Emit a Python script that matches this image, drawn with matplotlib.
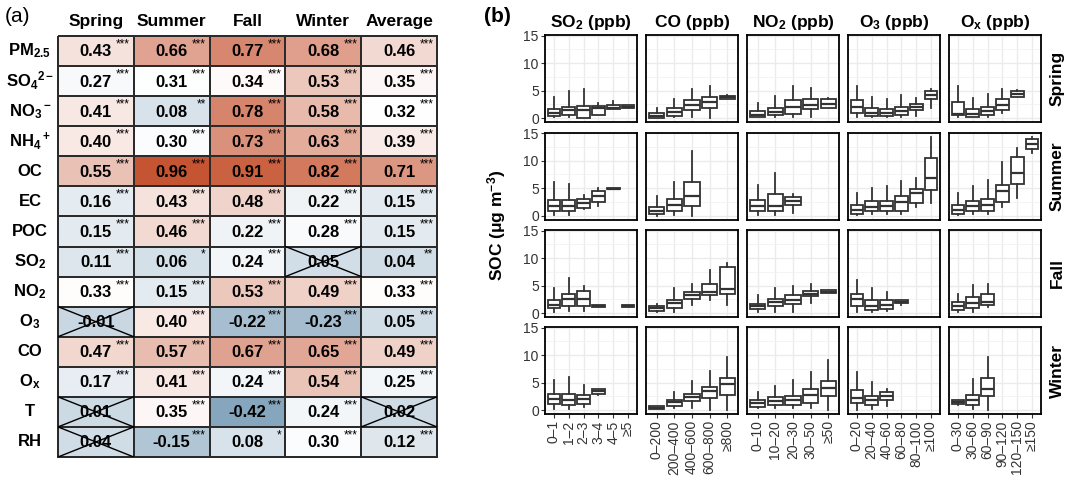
import matplotlib.pyplot as plt
import numpy as np
from matplotlib.colors import LinearSegmentedColormap, TwoSlopeNorm

plt.rcParams['font.family'] = ['Liberation Sans', 'DejaVu Sans']
plt.rcParams['mathtext.fontset'] = 'custom'
plt.rcParams['mathtext.rm'] = 'Liberation Sans:bold'
plt.rcParams['mathtext.it'] = 'Liberation Sans:bold'
plt.rcParams['mathtext.bf'] = 'Liberation Sans:bold'

# ---------------- panel (a) data ----------------
seasons = ["Spring", "Summer", "Fall", "Winter", "Average"]
factors = ["PM$_{2.5}$", "SO$_4$$^{2-}$", "NO$_3$$^-$", "NH$_4$$^+$", "OC", "EC", "POC",
           "SO$_2$", "NO$_2$", "O$_3$", "CO", "O$_x$", "T", "RH"]

r_spring = [0.43, 0.27, 0.41, 0.40, 0.55, 0.16, 0.15, 0.11, 0.33, -0.01, 0.47, 0.17, 0.01, 0.04]
r_summer = [0.66, 0.31, 0.08, 0.30, 0.96, 0.43, 0.46, 0.06, 0.15, 0.40, 0.57, 0.41, 0.35, -0.15]
r_fall = [0.77, 0.34, 0.78, 0.73, 0.91, 0.48, 0.22, 0.24, 0.53, -0.22, 0.67, 0.24, -0.42, 0.08]
r_winter = [0.68, 0.53, 0.58, 0.63, 0.82, 0.22, 0.28, 0.05, 0.49, -0.23, 0.65, 0.54, 0.24, 0.30]
r_average = [0.46, 0.35, 0.32, 0.39, 0.71, 0.15, 0.15, 0.04, 0.33, 0.05, 0.49, 0.25, 0.02, 0.12]

sig_spring = ["***", "***", "***", "***", "***", "***", "***", "***", "***", "", "***", "***", "", ""]
sig_summer = ["***", "***", "**", "***", "***", "***", "***", "*", "***", "***", "***", "***", "***", "***"]
sig_fall = ["***", "***", "***", "***", "***", "***", "***", "***", "***", "***", "***", "***", "***", "*"]
sig_winter = ["***", "***", "***", "***", "***", "***", "***", "", "***", "***", "***", "***", "***", "***"]
sig_average = ["***", "***", "***", "***", "***", "***", "***", "**", "***", "***", "***", "***", "", "***"]

# ---------------- panel (b) data ----------------
# each box: (whisker low, q1, median, q3, whisker high); None = no data
pollutants = ["SO$_2$ (ppb)", "CO (ppb)", "NO$_2$ (ppb)", "O$_3$ (ppb)", "O$_x$ (ppb)"]
box_seasons = ["Spring", "Summer", "Fall", "Winter"]

so2_bins = ["0–1", "1–2", "2–3", "3–4", "4–5", "≥5"]
co_bins = ["0–200", "200–400", "400–600", "600–800", "≥800"]
no2_bins = ["0–10", "10–20", "20–30", "30–50", "≥50"]
o3_bins = ["0–20", "20–40", "40–60", "60–80", "80–100", "≥100"]
ox_bins = ["0–30", "30–60", "60–90", "90–120", "120–150", "≥150"]

spring_so2 = [(0.1, 0.4, 0.9, 1.6, 3.8), (0.2, 0.6, 1.5, 2.1, 5.0), (0.0, 0.0, 1.4, 2.2, 5.2),
              (0.5, 0.5, 1.9, 2.2, 2.8), (1.6, 1.6, 1.9, 2.4, 3.1), (1.8, 1.8, 2.0, 2.3, 2.4)]
spring_co = [(0.0, 0.0, 0.4, 0.9, 1.9), (0.2, 0.3, 1.1, 1.8, 3.5), (0.2, 1.4, 2.3, 3.2, 5.3),
             (0.0, 1.8, 2.9, 3.8, 5.9), (3.4, 3.5, 3.8, 4.1, 4.2)]
spring_no2 = [(0.1, 0.1, 0.6, 1.3, 2.7), (0.2, 0.5, 1.1, 1.9, 4.1), (0.2, 0.8, 2.1, 3.3, 5.8),
              (0.2, 1.6, 2.4, 3.5, 5.5), (1.8, 1.8, 2.6, 3.4, 3.7)]
spring_o3 = [(0.2, 0.9, 2.0, 3.2, 5.9), (0.2, 0.4, 1.0, 1.8, 3.8), (0.2, 0.3, 1.0, 1.7, 3.5),
             (0.2, 0.5, 1.2, 2.0, 4.2), (0.4, 1.4, 2.0, 2.5, 3.6), (1.8, 3.4, 4.2, 5.0, 5.3)]
spring_ox = [(0.2, 0.5, 0.8, 3.0, 5.8), (0.2, 0.2, 0.8, 1.7, 3.7), (0.2, 0.5, 1.2, 2.0, 4.3),
             (0.9, 1.5, 2.3, 3.4, 5.2), (3.8, 3.8, 4.4, 5.0, 5.1), None]

summer_so2 = [(0.1, 0.75, 1.8, 2.9, 6.1), (0.1, 0.75, 1.7, 2.9, 5.75), (1.2, 1.4, 2.2, 3.1, 3.75),
              (1.8, 2.4, 3.6, 4.4, 5.0), (4.75, 4.75, 4.9, 5.1, 5.1), None]
summer_co = [(0.0, 0.3, 0.75, 1.6, 3.6), (0.1, 0.9, 2.0, 3.1, 6.1), (0.0, 1.8, 3.5, 6.1, 11.8),
             None, None]
summer_no2 = [(0.1, 0.75, 1.7, 2.75, 5.6), (0.1, 0.75, 1.8, 3.9, 7.8), (0.4, 2.0, 2.7, 3.4, 3.9),
              None, None]
summer_o3 = [(0.1, 0.3, 1.1, 2.0, 4.1), (0.2, 0.75, 1.6, 2.6, 5.1), (0.2, 0.9, 1.7, 2.6, 5.3),
             (0.2, 0.9, 2.4, 3.6, 6.25), (1.6, 2.2, 4.1, 4.8, 6.8), (2.3, 4.7, 6.9, 10.4, 14.3)]
summer_ox = [(0.1, 0.3, 1.1, 2.0, 4.1), (0.2, 0.75, 1.7, 2.6, 5.3), (0.2, 0.9, 2.0, 3.1, 6.5),
             (1.6, 2.4, 4.4, 5.6, 9.7), (3.25, 5.75, 7.8, 10.6, 12.3), (11.4, 12.2, 13.1, 14.0, 14.3)]

fall_so2 = [(0.2, 0.9, 1.5, 2.3, 4.6), (0.4, 1.35, 2.6, 3.55, 6.3), (0.3, 1.2, 2.6, 4.0, 4.9),
            (1.1, 1.1, 1.3, 1.5, 1.5), None, (1.1, 1.1, 1.3, 1.5, 1.5)]
fall_co = [(0.2, 0.4, 0.9, 1.2, 1.65), (0.2, 1.0, 1.8, 2.45, 4.6), (1.4, 2.6, 3.3, 3.85, 5.2),
           (2.3, 3.2, 3.85, 5.3, 7.8), (1.5, 3.5, 4.4, 8.4, 9.2)]
fall_no2 = [(0.2, 0.8, 1.2, 1.7, 3.2), (0.2, 1.2, 2.0, 2.6, 4.5), (0.2, 1.7, 2.45, 3.2, 5.0),
            (1.8, 3.1, 3.55, 4.0, 5.2), (3.7, 3.7, 3.9, 4.2, 4.2)]
fall_o3 = [(0.2, 1.35, 2.5, 3.4, 6.1), (0.2, 0.6, 1.35, 2.3, 4.5), (0.3, 0.7, 1.5, 2.3, 3.8),
           (1.5, 1.8, 2.0, 2.3, 2.3), None, None]
fall_ox = [(0.2, 0.6, 1.35, 2.1, 3.4), (0.2, 0.9, 1.8, 2.9, 5.1), (1.1, 1.5, 2.1, 3.4, 5.3),
           None, None, None]

winter_so2 = [(0.1, 1.1, 2.1, 3.0, 5.4), (0.1, 0.95, 1.9, 3.0, 6.1), (0.5, 1.1, 2.1, 2.8, 4.6),
              (2.7, 3.0, 3.4, 3.75, 3.9), None, None]
winter_co = [(0.1, 0.1, 0.45, 0.75, 0.8), (0.3, 0.75, 1.4, 1.9, 3.3), (0.45, 1.7, 2.4, 3.0, 5.3),
             (0.0, 2.2, 3.4, 4.25, 7.1), (0.0, 2.8, 4.7, 5.75, 9.7)]
winter_no2 = [(0.3, 0.6, 1.25, 1.9, 3.3), (0.3, 0.95, 1.6, 2.4, 4.4), (0.3, 0.95, 1.9, 2.6, 5.4),
              (0.3, 1.25, 2.8, 3.75, 6.9), (0.0, 2.6, 4.1, 5.3, 9.2)]
winter_o3 = [(0.0, 1.25, 2.2, 3.6, 6.9), (0.1, 0.95, 1.75, 2.5, 5.1), (0.75, 1.9, 2.5, 3.25, 3.9),
             None, None, None]
winter_ox = [(0.95, 1.1, 1.5, 1.9, 1.9), (0.1, 0.95, 1.9, 2.8, 5.6), (0.0, 2.6, 3.9, 5.8, 9.7),
             None, None, None]

bins = [so2_bins, co_bins, no2_bins, o3_bins, ox_bins]
panels = [
    [spring_so2, spring_co, spring_no2, spring_o3, spring_ox],
    [summer_so2, summer_co, summer_no2, summer_o3, summer_ox],
    [fall_so2, fall_co, fall_no2, fall_o3, fall_ox],
    [winter_so2, winter_co, winter_no2, winter_o3, winter_ox],
]

W, H = 1070, 480
fig = plt.figure(figsize=(W / 100, H / 100), dpi=100)


def px_axes(x0, y0, x1, y1):
    # axes from pixel box (top-left origin)
    return fig.add_axes([x0 / W, 1 - y1 / H, (x1 - x0) / W, (y1 - y0) / H])


# ---------------- panel (a) ----------------
r_table = np.array([r_spring, r_summer, r_fall, r_winter, r_average]).T
sig_table = np.array([sig_spring, sig_summer, sig_fall, sig_winter, sig_average]).T

cmap = LinearSegmentedColormap.from_list("rb", ["#7c9fb8", "#ffffff", "#c24a26"])
norm = TwoSlopeNorm(vmin=-0.48, vcenter=0.32, vmax=1.0)

ax_a = px_axes(58, 36, 437, 457)
mesh = ax_a.pcolormesh(np.arange(len(seasons) + 1), np.arange(len(factors) + 1), r_table,
                       cmap=cmap, norm=norm, edgecolors="#2b2b2b", linewidth=1.3)
mesh.set_clip_on(False)
ax_a.set_xlim(0, len(seasons))
ax_a.set_ylim(len(factors), 0)
ax_a.axis("off")

for i in range(len(factors)):
    ax_a.text(-0.37, i + 0.5, factors[i], ha="center", va="center",
              fontsize=12, fontweight="bold")
    for j in range(len(seasons)):
        ax_a.text(j + 0.5, i + 0.53, f"{r_table[i, j]:.2f}", ha="center", va="center",
                  fontsize=12, fontweight="bold")
        if sig_table[i, j]:
            ax_a.text(j + 0.95, i + 0.08, sig_table[i, j], ha="right", va="top", fontsize=8.5)
        else:
            ax_a.plot([j, j + 1], [i, i + 1], color="black", lw=1.0)
            ax_a.plot([j, j + 1], [i + 1, i], color="black", lw=1.0)

for j in range(len(seasons)):
    ax_a.text(j + 0.5, -0.48, seasons[j], ha="center", va="center",
              fontsize=12.5, fontweight="bold")

fig.text(5 / W, 1 - 17 / H, "(a)", ha="left", va="center", fontsize=15)

# ---------------- panel (b) ----------------
col_left = [545, 646, 747, 848, 949]
row_top = [35, 132.5, 230, 327]
pw, ph = 92, 87
line_c = "#333333"

for r in range(len(box_seasons)):
    for c in range(len(pollutants)):
        ax = px_axes(col_left[c], row_top[r], col_left[c] + pw, row_top[r] + ph)
        n = len(bins[c])
        stats = []
        pos = []
        for k, b in enumerate(panels[r][c]):
            if b is None:
                continue
            stats.append(dict(whislo=b[0], q1=b[1], med=b[2], q3=b[3], whishi=b[4], fliers=[]))
            pos.append(k + 1)
        ax.bxp(stats, positions=pos, widths=0.85, showfliers=False, showcaps=False,
               patch_artist=True,
               boxprops=dict(facecolor="white", edgecolor=line_c, linewidth=1.3),
               medianprops=dict(color=line_c, linewidth=1.6),
               whiskerprops=dict(color=line_c, linewidth=1.3))
        ax.set_xlim(0.4, n + 0.6)
        ax.set_ylim(-0.72, 15.12)
        ax.set_xticks(np.arange(1, n + 1))
        ax.set_yticks([0, 5, 10, 15])
        ax.set_yticks([2.5, 7.5, 12.5], minor=True)
        ax.grid(True, which="major", color="#ebebeb", linewidth=1.0)
        ax.grid(True, which="minor", axis="y", color="#f2f2f2", linewidth=0.6)
        ax.set_axisbelow(True)
        ax.tick_params(which="minor", length=0)
        for sp in ax.spines.values():
            sp.set_color("black")
            sp.set_linewidth(1.3)
        if c == 0:
            ax.tick_params(axis="y", length=3, color=line_c, labelsize=10,
                           labelcolor="#333333", pad=1.5)
        else:
            ax.tick_params(axis="y", length=0, labelleft=False)
        if r == len(box_seasons) - 1:
            ax.set_xticklabels(bins[c], rotation=90, fontsize=10, color="#333333")
            ax.tick_params(axis="x", length=3, color=line_c, pad=1.5)
        else:
            ax.tick_params(axis="x", length=0, labelbottom=False)
        if r == 0:
            ax.set_title(pollutants[c], fontsize=12.5, fontweight="bold", pad=6)
    fig.text(1057 / W, 1 - (row_top[r] + ph / 2) / H, box_seasons[r], rotation=90,
             ha="center", va="center", fontsize=12.5, fontweight="bold")

fig.text(497 / W, 1 - 225 / H, "SOC (μg m$^{-3}$)", rotation=90, ha="center", va="center",
         fontsize=12.5, fontweight="bold")
fig.text(484 / W, 1 - 17 / H, "(b)", ha="left", va="center", fontsize=15, fontweight="bold")

fig.savefig("out.png", dpi=100)
